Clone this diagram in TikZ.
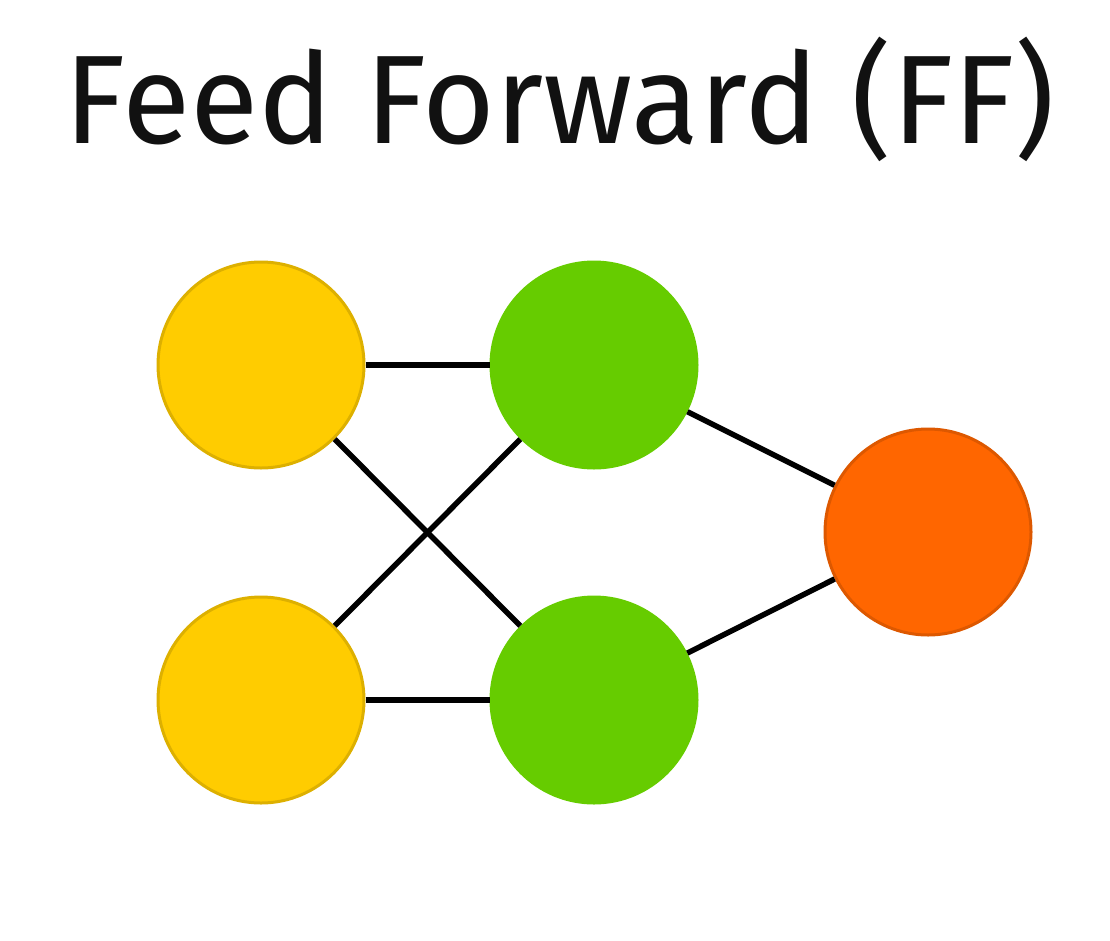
\documentclass[tikz,border=0pt]{standalone}
\usepackage{fontspec}
\usepackage{graphicx}
\setmainfont{Fira Sans}
\definecolor{ffyellow}{HTML}{FFCC00}
\definecolor{ffyellowb}{HTML}{DDB000}
\definecolor{ffgreen}{HTML}{66CC00}
\definecolor{fforange}{HTML}{FF6600}
\definecolor{fforangeb}{HTML}{DD5800}
\definecolor{fftext}{HTML}{111111}
\begin{document}
\begin{tikzpicture}[x=1pt,y=-1pt,
  neuron/.style={circle,minimum size=206pt,inner sep=0pt,line width=3pt},
  inputcell/.style={neuron,fill=ffyellow,draw=ffyellowb},
  hiddencell/.style={neuron,fill=ffgreen,draw=ffgreen},
  outputcell/.style={neuron,fill=fforange,draw=fforangeb},
  conn/.style={line width=5.5pt,black}]
\useasboundingbox (0,0) rectangle (1110,940);
\node[anchor=base,inner sep=0pt,text=fftext] (title) at (560,143)
  {\resizebox{990pt}{\height}{\fontsize{126pt}{130pt}\selectfont Feed Forward (FF)}};
\node[inputcell] (i1) at (261,365) {};
\node[inputcell] (i2) at (261,700) {};
\node[hiddencell] (h1) at (594,365) {};
\node[hiddencell] (h2) at (594,700) {};
\node[outputcell] (o1) at (928,532) {};
\draw[conn] (i1) -- (h1);
\draw[conn] (i1) -- (h2);
\draw[conn] (i2) -- (h1);
\draw[conn] (i2) -- (h2);
\draw[conn] (h1) -- (o1);
\draw[conn] (h2) -- (o1);
\end{tikzpicture}
\end{document}
